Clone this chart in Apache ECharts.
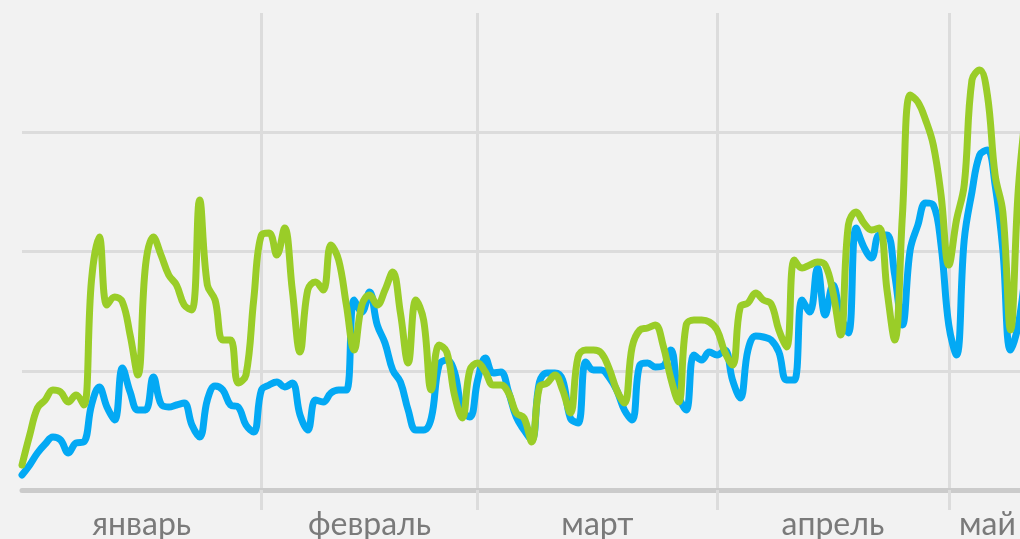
<!DOCTYPE html>
<html>
<head>
<meta charset="utf-8">
<script src="https://cdn.jsdelivr.net/npm/echarts@6/dist/echarts.min.js"></script>
<style>
  html, body { margin: 0; padding: 0; background: #f2f2f2; }
  #chart { width: 1020px; height: 539px; }
</style>
</head>
<body>
<div id="chart"></div>
<script>
// месяцы и их первый день (номер дня с 1 января)
const months = ["январь", "февраль", "март", "апрель", "май"];
const monthStarts = [0, 31, 59, 90, 120];
const lastDay = 130;

// значения по дням
const blueValues = [
  15, 25, 37, 46, 53, 50, 37, 47, 48, 85,
  103, 83, 70, 122, 98, 80, 80, 113, 86, 83,
  85, 87, 65, 53, 90, 104, 100, 85, 83, 65,
  58, 100, 105, 108, 103, 107, 75, 60, 90, 88,
  97, 100, 100, 190, 178, 198, 165, 147, 120, 108,
  80, 60, 60, 72, 125, 130, 118, 80, 73, 110,
  132, 117, 118, 98, 73, 60, 50, 108, 117, 117,
  110, 72, 67, 128, 120, 120, 113, 100, 80, 70,
  125, 127, 123, 124, 140, 95, 80, 135, 130, 138,
  135, 140, 110, 92, 140, 154, 153, 150, 138, 110,
  110, 190, 178, 222, 175, 205, 175, 157, 262, 243,
  232, 255, 255, 215, 165, 240, 265, 287, 285, 245,
  165, 135, 250, 298, 335, 340, 305, 240, 140, 165,
  225
];
const greenValues = [
  25, 55, 82, 90, 100, 98, 88, 95, 85, 210,
  253, 185, 193, 188, 155, 115, 225, 253, 235, 215,
  205, 185, 180, 290, 205, 190, 150, 150, 107, 115,
  190, 255, 257, 235, 262, 200, 138, 200, 208, 200,
  245, 230, 185, 140, 185, 195, 185, 200, 218, 177,
  127, 190, 170, 100, 145, 138, 95, 72, 120, 127,
  118, 105, 105, 97, 77, 72, 48, 103, 107, 115,
  100, 77, 133, 140, 140, 137, 122, 100, 87, 143,
  160, 162, 165, 145, 112, 88, 165, 170, 170, 168,
  160, 138, 125, 183, 187, 197, 190, 186, 160, 143,
  230, 222, 225, 228, 225, 198, 155, 265, 278, 267,
  260, 262, 200, 150, 275, 395, 388, 370, 345, 295,
  225, 270, 305, 410, 420, 395, 315, 278, 160, 300,
  380
];

// подписи месяцев - посередине между началами месяцев
const labelPos = monthStarts.map((s, i) =>
  (s + (i + 1 < monthStarts.length ? monthStarts[i + 1] : lastDay)) / 2
);

const gridColor = "#dcdcdc";

const chart = echarts.init(document.getElementById("chart"));
chart.setOption({
  backgroundColor: "#f2f2f2",
  animation: false,
  // правый край чуть за окном
  grid: {
    left: 22, width: 1004, top: 13, bottom: 49,
    containLabel: false, outerBoundsMode: "none"
  },
  xAxis: {
    type: "value",
    min: 0,
    max: lastDay,
    axisLine: {
      lineStyle: { color: "#cbcbcb", width: 5, cap: "round" }
    },
    axisTick: {
      customValues: monthStarts.slice(1),
      length: 20,
      lineStyle: { color: gridColor, width: 3 }
    },
    splitLine: {
      show: true,
      lineStyle: { color: gridColor, width: 3 }
    },
    axisLabel: {
      customValues: labelPos,
      formatter: v => months[labelPos.indexOf(v)] || "",
      color: "#7a7a7a",
      fontFamily: "Lato",
      fontSize: 32,
      margin: 19
    }
  },
  yAxis: {
    type: "value",
    min: 0,
    max: 477,
    interval: 119.25,
    axisLine: { show: false },
    axisTick: { show: false },
    axisLabel: { show: false },
    splitLine: {
      showMaxLine: false,
      lineStyle: { color: gridColor, width: 3 }
    }
  },
  series: [
    {
      name: "blue",
      type: "line",
      data: blueValues.map((v, i) => [i, v]),
      smooth: 0.4,
      symbol: "none",
      lineStyle: { color: "#03a9f4", width: 7, cap: "round", join: "round" }
    },
    {
      name: "green",
      type: "line",
      data: greenValues.map((v, i) => [i, v]),
      smooth: 0.4,
      symbol: "none",
      lineStyle: { color: "#9acd28", width: 7, cap: "round", join: "round" }
    }
  ]
});
</script>
</body>
</html>
